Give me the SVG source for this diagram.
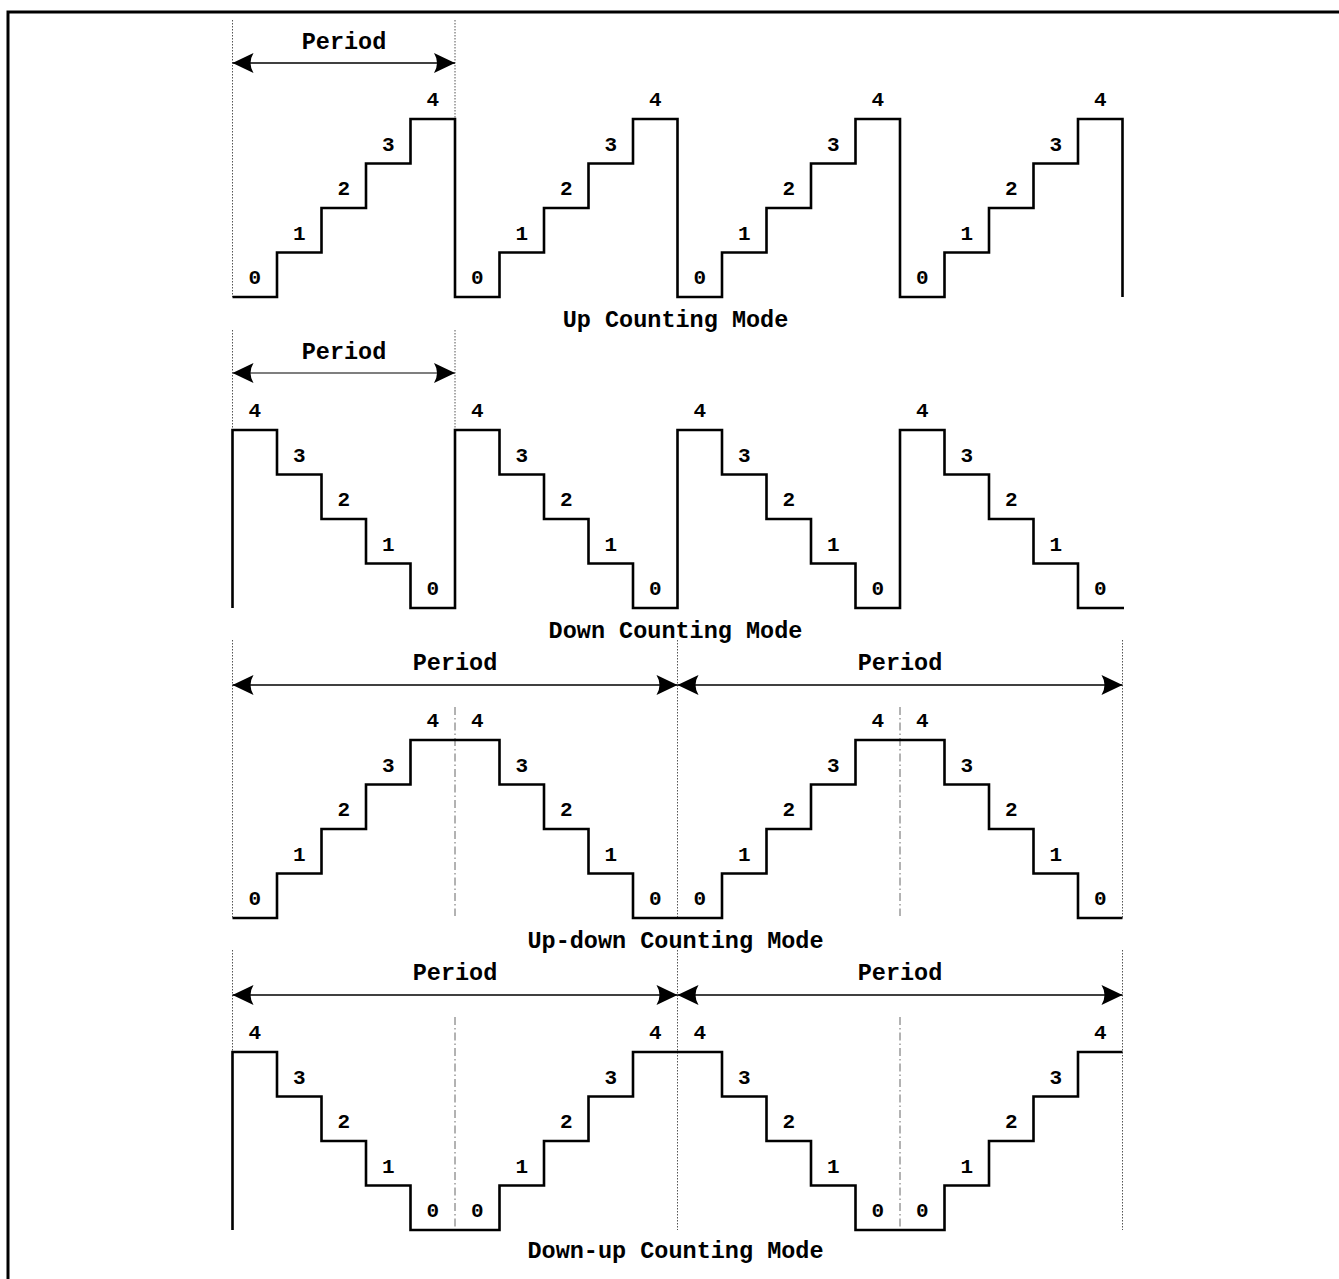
<svg xmlns="http://www.w3.org/2000/svg" width="1339" height="1279" viewBox="0 0 1339 1279">
<style>
.sig{fill:none;stroke:#000;stroke-width:2.6;stroke-linejoin:miter;stroke-linecap:butt}
.dot{fill:none;stroke:#555;stroke-width:1;stroke-dasharray:1.5 1.5}
.dd{fill:none;stroke:#666;stroke-width:1;stroke-dasharray:8 3 1.5 3}
.arr{fill:none;stroke:#000;stroke-width:1.4;marker-start:url(#ah);marker-end:url(#ah)}
.arr2{fill:none;stroke:#555;stroke-width:1.6;marker-start:url(#ah);marker-end:url(#ah)}
text{font-family:"Liberation Mono","Courier New",monospace;font-weight:bold;fill:#000;text-anchor:middle}
.n{font-size:21px}
.t{font-size:23.5px}
</style>
<defs>
<marker id="ah" viewBox="-22 -11 23 22" markerWidth="23" markerHeight="22" refX="0" refY="0" markerUnits="userSpaceOnUse" orient="auto-start-reverse">
<path d="M0,0 L-21,-10 Q-15,0 -21,10 Z" fill="#000"/>
</marker>
</defs>
<rect width="1339" height="1279" fill="#fff"/>
<path d="M8,1279 V12 H1339" fill="none" stroke="#000" stroke-width="3"/>

<g id="guides">
<line class="dot" x1="232.5" y1="20" x2="232.5" y2="297"/>
<line class="dot" x1="455" y1="20" x2="455" y2="119"/>
<line class="dot" x1="232.5" y1="330" x2="232.5" y2="430"/>
<line class="dot" x1="455" y1="330" x2="455" y2="430"/>
<line class="dot" x1="232.5" y1="640" x2="232.5" y2="918"/>
<line class="dot" x1="677.5" y1="640" x2="677.5" y2="918"/>
<line class="dot" x1="1122.5" y1="640" x2="1122.5" y2="918"/>
<line class="dd" x1="455" y1="707" x2="455" y2="916"/>
<line class="dd" x1="900" y1="707" x2="900" y2="916"/>
<line class="dot" x1="232.5" y1="950" x2="232.5" y2="1052"/>
<line class="dot" x1="677.5" y1="950" x2="677.5" y2="1230"/>
<line class="dot" x1="1122.5" y1="950" x2="1122.5" y2="1230"/>
<line class="dd" x1="455" y1="1017" x2="455" y2="1228"/>
<line class="dd" x1="900" y1="1017" x2="900" y2="1228"/>
</g>

<g id="connectors">
<line class="arr" x1="232.5" y1="63" x2="455" y2="63"/>
<line class="arr2" x1="232.5" y1="373" x2="455" y2="373"/>
<line class="arr" x1="232.5" y1="685" x2="677.5" y2="685"/>
<line class="arr" x1="677.5" y1="685" x2="1122.5" y2="685"/>
<line class="arr" x1="232.5" y1="995" x2="677.5" y2="995"/>
<line class="arr" x1="677.5" y1="995" x2="1122.5" y2="995"/>
</g>

<g id="up-counting">
<path class="sig" d="M232.5,297 H277 V252.5 H321.5 V208 H366 V163.5 H410.5 V119 H455 V297 H499.5 V252.5 H544 V208 H588.5 V163.5 H633 V119 H677.5 V297 H722 V252.5 H766.5 V208 H811 V163.5 H855.5 V119 H900 V297 H944.5 V252.5 H989 V208 H1033.5 V163.5 H1078 V119 H1122.5 V297"/>
<text class="t" x="344" y="49">Period</text>
<text class="n" x="254.75" y="284">0</text><text class="n" x="299.25" y="239.5">1</text><text class="n" x="343.75" y="195">2</text><text class="n" x="388.25" y="150.5">3</text><text class="n" x="432.75" y="106">4</text>
<text class="n" x="477.25" y="284">0</text><text class="n" x="521.75" y="239.5">1</text><text class="n" x="566.25" y="195">2</text><text class="n" x="610.75" y="150.5">3</text><text class="n" x="655.25" y="106">4</text>
<text class="n" x="699.75" y="284">0</text><text class="n" x="744.25" y="239.5">1</text><text class="n" x="788.75" y="195">2</text><text class="n" x="833.25" y="150.5">3</text><text class="n" x="877.75" y="106">4</text>
<text class="n" x="922.25" y="284">0</text><text class="n" x="966.75" y="239.5">1</text><text class="n" x="1011.25" y="195">2</text><text class="n" x="1055.75" y="150.5">3</text><text class="n" x="1100.25" y="106">4</text>
<text class="t" x="675.5" y="327">Up Counting Mode</text>
</g>

<g id="down-counting">
<path class="sig" d="M232.5,608 V430 H277 V474.5 H321.5 V519 H366 V563.5 H410.5 V608 H455 V430 H499.5 V474.5 H544 V519 H588.5 V563.5 H633 V608 H677.5 V430 H722 V474.5 H766.5 V519 H811 V563.5 H855.5 V608 H900 V430 H944.5 V474.5 H989 V519 H1033.5 V563.5 H1078 V608 H1124"/>
<text class="t" x="344" y="359">Period</text>
<text class="n" x="254.75" y="417">4</text><text class="n" x="299.25" y="461.5">3</text><text class="n" x="343.75" y="506">2</text><text class="n" x="388.25" y="550.5">1</text><text class="n" x="432.75" y="595">0</text>
<text class="n" x="477.25" y="417">4</text><text class="n" x="521.75" y="461.5">3</text><text class="n" x="566.25" y="506">2</text><text class="n" x="610.75" y="550.5">1</text><text class="n" x="655.25" y="595">0</text>
<text class="n" x="699.75" y="417">4</text><text class="n" x="744.25" y="461.5">3</text><text class="n" x="788.75" y="506">2</text><text class="n" x="833.25" y="550.5">1</text><text class="n" x="877.75" y="595">0</text>
<text class="n" x="922.25" y="417">4</text><text class="n" x="966.75" y="461.5">3</text><text class="n" x="1011.25" y="506">2</text><text class="n" x="1055.75" y="550.5">1</text><text class="n" x="1100.25" y="595">0</text>
<text class="t" x="675.5" y="638">Down Counting Mode</text>
</g>

<g id="up-down-counting">
<path class="sig" d="M232.5,918 H277 V873.5 H321.5 V829 H366 V784.5 H410.5 V740 H499.5 V784.5 H544 V829 H588.5 V873.5 H633 V918 H722 V873.5 H766.5 V829 H811 V784.5 H855.5 V740 H944.5 V784.5 H989 V829 H1033.5 V873.5 H1078 V918 H1122.5"/>
<text class="t" x="455" y="670">Period</text>
<text class="t" x="900" y="670">Period</text>
<text class="n" x="254.75" y="905">0</text><text class="n" x="299.25" y="860.5">1</text><text class="n" x="343.75" y="816">2</text><text class="n" x="388.25" y="771.5">3</text><text class="n" x="432.75" y="727">4</text>
<text class="n" x="477.25" y="727">4</text><text class="n" x="521.75" y="771.5">3</text><text class="n" x="566.25" y="816">2</text><text class="n" x="610.75" y="860.5">1</text><text class="n" x="655.25" y="905">0</text>
<text class="n" x="699.75" y="905">0</text><text class="n" x="744.25" y="860.5">1</text><text class="n" x="788.75" y="816">2</text><text class="n" x="833.25" y="771.5">3</text><text class="n" x="877.75" y="727">4</text>
<text class="n" x="922.25" y="727">4</text><text class="n" x="966.75" y="771.5">3</text><text class="n" x="1011.25" y="816">2</text><text class="n" x="1055.75" y="860.5">1</text><text class="n" x="1100.25" y="905">0</text>
<text class="t" x="675.5" y="948">Up-down Counting Mode</text>
</g>

<g id="down-up-counting">
<path class="sig" d="M232.5,1230 V1052 H277 V1096.5 H321.5 V1141 H366 V1185.5 H410.5 V1230 H499.5 V1185.5 H544 V1141 H588.5 V1096.5 H633 V1052 H722 V1096.5 H766.5 V1141 H811 V1185.5 H855.5 V1230 H944.5 V1185.5 H989 V1141 H1033.5 V1096.5 H1078 V1052 H1122.5"/>
<text class="t" x="455" y="980">Period</text>
<text class="t" x="900" y="980">Period</text>
<text class="n" x="254.75" y="1039">4</text><text class="n" x="299.25" y="1083.5">3</text><text class="n" x="343.75" y="1128">2</text><text class="n" x="388.25" y="1172.5">1</text><text class="n" x="432.75" y="1217">0</text>
<text class="n" x="477.25" y="1217">0</text><text class="n" x="521.75" y="1172.5">1</text><text class="n" x="566.25" y="1128">2</text><text class="n" x="610.75" y="1083.5">3</text><text class="n" x="655.25" y="1039">4</text>
<text class="n" x="699.75" y="1039">4</text><text class="n" x="744.25" y="1083.5">3</text><text class="n" x="788.75" y="1128">2</text><text class="n" x="833.25" y="1172.5">1</text><text class="n" x="877.75" y="1217">0</text>
<text class="n" x="922.25" y="1217">0</text><text class="n" x="966.75" y="1172.5">1</text><text class="n" x="1011.25" y="1128">2</text><text class="n" x="1055.75" y="1083.5">3</text><text class="n" x="1100.25" y="1039">4</text>
<text class="t" x="675.5" y="1258">Down-up Counting Mode</text>
</g>
</svg>
